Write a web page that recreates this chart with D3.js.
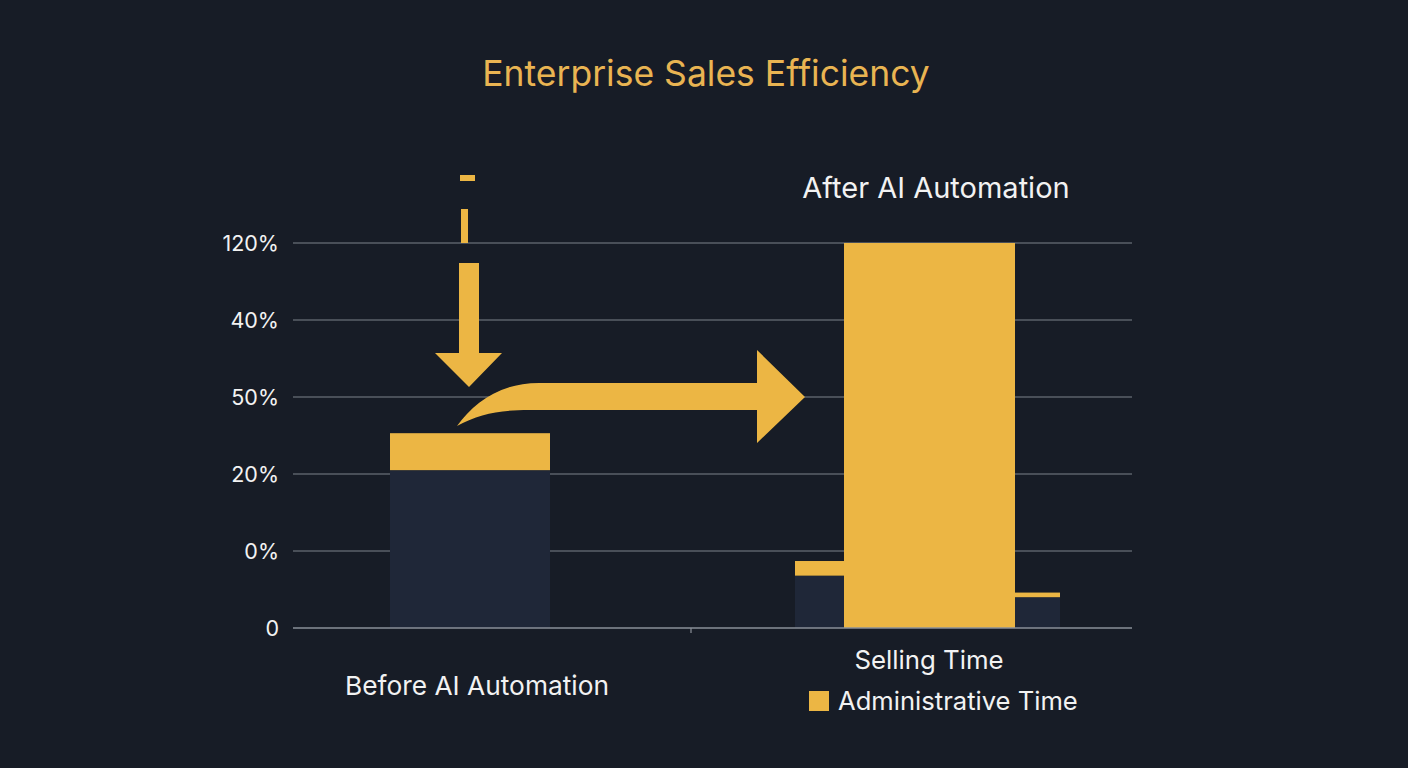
<!DOCTYPE html>
<html><head><meta charset="utf-8">
<script src="https://cdn.jsdelivr.net/npm/d3@7"></script>
<style>
html,body{margin:0;padding:0;background:#171c26;}
svg{display:block;font-family:Inter,"Noto Sans",sans-serif;}
</style></head>
<body><svg id="c" width="1408" height="768"></svg>
<script>
const categories = ["Before AI Automation", "After AI Automation"];
const tickLabels = ["0", "0%", "20%", "50%", "40%", "120%"];
const tickIndex = [0, 1, 2, 3, 4, 5];
// values in grid units (one unit = one gridline step)
const beforeSelling = [2.05];
const beforeAdmin = [0.48];
const afterSelling = [0.68, 0, 0.40];
const afterAdmin = [0.19, 5.0, 0.06];
const legendLabels = ["Selling Time", "Administrative Time"];
const title = "Enterprise Sales Efficiency";

const C = {bg:"#171c26", dark:"#1f2738", gold:"#ecb644", grid:"#5b606a", text:"#f2f2f2", title:"#e9b452"};
const svg = d3.select("#c");
svg.append("rect").attr("width",1408).attr("height",768).attr("fill",C.bg);

const y = d3.scaleLinear().domain([0,5]).range([628,243]);
const x = d3.scalePoint().domain(categories).range([470, 929.5]);
const gridX0 = 293, gridX1 = 1132;

// gridlines
svg.append("g").selectAll("line").data(tickIndex.slice(1)).join("line")
  .attr("x1",gridX0).attr("x2",gridX1).attr("y1",d=>y(d)).attr("y2",d=>y(d))
  .attr("stroke",C.grid).attr("stroke-width",1.3);

// y tick labels
svg.append("g").selectAll("text").data(tickIndex).join("text")
  .attr("x",279).attr("y",d=>y(d)).attr("dy","0.36em")
  .attr("text-anchor","end").attr("fill",C.text).attr("font-size",21.5)
  .text(d=>tickLabels[d]);

// Before bar
const bw = 160;
const bx = x(categories[0]) - bw/2;
svg.append("rect").attr("x",bx).attr("width",bw)
  .attr("y",y(beforeSelling[0])).attr("height",y(0)-y(beforeSelling[0])).attr("fill",C.dark);
svg.append("rect").attr("x",bx).attr("width",bw)
  .attr("y",y(beforeSelling[0]+beforeAdmin[0])).attr("height",y(beforeSelling[0])-y(beforeSelling[0]+beforeAdmin[0])).attr("fill",C.gold);

// After bars
const aw = [49, 171, 45];
const ac = x(categories[1]);
const starts = [ac - aw[1]/2 - aw[0], ac - aw[1]/2, ac + aw[1]/2];
afterSelling.forEach((v,i)=>{
  if (v>0) svg.append("rect").attr("x",starts[i]).attr("width",aw[i])
    .attr("y",y(v)).attr("height",y(0)-y(v)).attr("fill",C.dark);
  svg.append("rect").attr("x",starts[i]).attr("width",aw[i])
    .attr("y",y(v+afterAdmin[i])).attr("height",y(v)-y(v+afterAdmin[i])).attr("fill",C.gold);
});

// baseline
svg.append("line").attr("x1",gridX0).attr("x2",gridX1).attr("y1",y(0)).attr("y2",y(0))
  .attr("stroke","#8a8f98").attr("stroke-width",1.6);
svg.append("line").attr("x1",691).attr("x2",691).attr("y1",y(0)).attr("y2",y(0)+5)
  .attr("stroke","#8a8f98").attr("stroke-width",1.2);

// Down arrow (annotation), placed relative to the Before bar
const ax = x(categories[0]) - 1;
const g = svg.append("g").attr("fill",C.gold);
g.append("rect").attr("x",ax-9).attr("y",y(5)-68).attr("width",15).attr("height",6);
g.append("rect").attr("x",ax-8).attr("y",y(5)-34).attr("width",7).attr("height",34);
g.append("path").attr("d",
  `M${ax-10},${y(5)+20} L${ax+10},${y(5)+20} L${ax+10},${y(3)-44} L${ax+33},${y(3)-44} L${ax},${y(3)-10} L${ax-34},${y(3)-44} L${ax-10},${y(3)-44} Z`);

// Curved arrow toward After bars
const cy = y(3);
const tipX = starts[0] + 10;
g.append("path").attr("d",
  `M${ax-12},${cy+29} C${ax+5},${cy+6} ${ax+30},${cy-14} ${ax+70},${cy-14}`+
  ` L${tipX-48},${cy-14} L${tipX-48},${cy-47} L${tipX},${cy} L${tipX-48},${cy+46} L${tipX-48},${cy+13}`+
  ` L${ax+60},${cy+13} C${ax+30},${cy+13} ${ax+10},${cy+17} ${ax-12},${cy+29} Z`);

// Title
svg.append("text").attr("x",706).attr("y",86).attr("text-anchor","middle")
  .attr("fill",C.title).attr("font-size",35.5).text(title);

// Category labels
svg.append("text").attr("x",936).attr("y",198).attr("text-anchor","middle")
  .attr("fill",C.text).attr("font-size",29).text(categories[1]);
svg.append("text").attr("x",477).attr("y",695).attr("text-anchor","middle")
  .attr("fill",C.text).attr("font-size",26.3).text(categories[0]);

// Legend
svg.append("text").attr("x",929).attr("y",669).attr("text-anchor","middle")
  .attr("fill",C.text).attr("font-size",25.8).text(legendLabels[0]);
svg.append("rect").attr("x",809).attr("y",691).attr("width",20).attr("height",20).attr("fill",C.gold);
svg.append("text").attr("x",838).attr("y",710)
  .attr("fill",C.text).attr("font-size",25.6).text(legendLabels[1]);
</script></body></html>
